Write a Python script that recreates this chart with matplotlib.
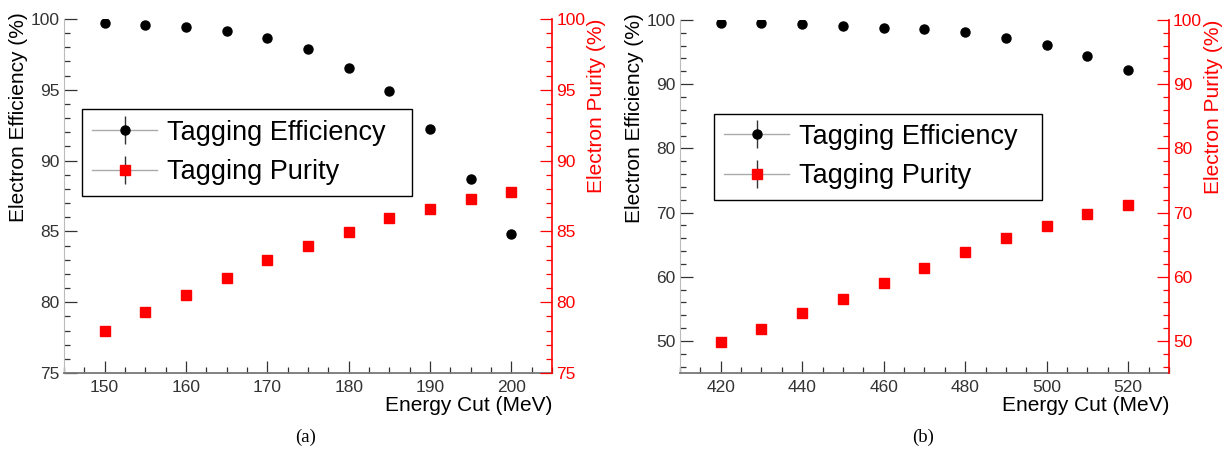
import matplotlib
matplotlib.use("Agg")
import matplotlib.pyplot as plt
from matplotlib.lines import Line2D
from matplotlib.ticker import MultipleLocator

plt.rcParams['font.family'] = ['Liberation Sans', 'DejaVu Sans']

# ---- data: panel (a) ----
cut_a = [150, 155, 160, 165, 170, 175, 180, 185, 190, 195, 200]
eff_a = [99.7, 99.6, 99.45, 99.15, 98.65, 97.85, 96.55, 94.9, 92.2, 88.7, 84.85]
pur_a = [77.95, 79.3, 80.5, 81.7, 82.95, 84.0, 84.95, 85.95, 86.6, 87.3, 87.75]

# ---- data: panel (b) ----
cut_b = [420, 430, 440, 450, 460, 470, 480, 490, 500, 510, 520]
eff_b = [99.5, 99.5, 99.4, 99.1, 98.8, 98.6, 98.1, 97.2, 96.1, 94.4, 92.2]
pur_b = [49.8, 51.9, 54.3, 56.6, 59.0, 61.3, 63.8, 66.0, 67.9, 69.7, 71.2]

legend_labels = ["Tagging Efficiency", "Tagging Purity"]
xlabel = "Energy Cut (MeV)"
ylabel_l = "Electron Efficiency (%)"
ylabel_r = "Electron Purity (%)"

fig = plt.figure(figsize=(12.31, 4.5), dpi=100)

panels = [
    dict(rect=[0.052, 0.1711, 0.3964, 0.7867], x=cut_a, eff=eff_a, pur=pur_a,
         xlim=(145, 205), ylim=(75, 100), xmaj=10, xmin=2.5, ymaj=5, ymin=1,
         leg=(0.037, 0.497, 0.676, 0.252), cap="(a)", capx=0.248),
    dict(rect=[0.5524, 0.1711, 0.3972, 0.7845], x=cut_b, eff=eff_b, pur=pur_b,
         xlim=(410, 530), ylim=(45, 100), xmaj=20, xmin=5, ymaj=10, ymin=2,
         leg=(0.0695, 0.487, 0.671, 0.252), cap="(b)", capx=0.750),
]

for p in panels:
    ax = fig.add_axes(p['rect'])
    ax.plot(p['x'], p['eff'], 'o', color='black', ms=6.5, zorder=3)
    ax.plot(p['x'], p['pur'], 's', color='red', ms=7, zorder=3)
    ax.set_xlim(*p['xlim'])
    ax.set_ylim(*p['ylim'])
    ax.xaxis.set_major_locator(MultipleLocator(p['xmaj']))
    ax.xaxis.set_minor_locator(MultipleLocator(p['xmin']))
    ax.yaxis.set_major_locator(MultipleLocator(p['ymaj']))
    ax.yaxis.set_minor_locator(MultipleLocator(p['ymin']))
    ax.tick_params(axis='both', which='both', direction='in', colors='#333',
                   labelsize=12.5, pad=3)
    ax.tick_params(axis='both', which='major', length=9, width=0.9)
    ax.tick_params(axis='both', which='minor', length=4.5, width=0.9)
    ax.tick_params(axis='x', pad=5)
    ax.spines['top'].set_visible(False)
    ax.spines['right'].set_visible(False)
    ax.spines['left'].set_color('#bbbbbb')
    ax.spines['bottom'].set_color('#777777')
    ax.spines['bottom'].set_linewidth(1.3)
    ax.set_xlabel(xlabel, loc='right', fontsize=15, labelpad=1)
    ax.set_ylabel(ylabel_l, loc='top', fontsize=15, labelpad=6)
    ax.yaxis.set_label_coords(-0.074, 1.02)

    ax2 = ax.twinx()
    ax2.set_ylim(*p['ylim'])
    ax2.yaxis.set_major_locator(MultipleLocator(p['ymaj']))
    ax2.yaxis.set_minor_locator(MultipleLocator(p['ymin']))
    ax2.tick_params(axis='y', which='both', direction='in', colors='red',
                    labelsize=12.5, pad=3)
    ax2.tick_params(axis='y', which='major', length=9, width=0.9)
    ax2.tick_params(axis='y', which='minor', length=4.5, width=0.9)
    for s in ['top', 'left', 'bottom']:
        ax2.spines[s].set_visible(False)
    ax2.spines['right'].set_color('red')
    ax2.spines['right'].set_linewidth(1.2)
    ax2.set_ylabel(ylabel_r, loc='top', fontsize=15, color='red')
    ax2.yaxis.set_label_coords(1.072, 1.0)

    # legend with error-bar style handles
    h1 = (Line2D([], [], color='#aaaaaa', lw=1),
          Line2D([], [], color='#333', marker='|', ms=20, mew=1, ls='none'),
          Line2D([], [], color='black', marker='o', ms=6.5, ls='none'))
    h2 = (Line2D([], [], color='#aaaaaa', lw=1),
          Line2D([], [], color='#333', marker='|', ms=20, mew=1, ls='none'),
          Line2D([], [], color='red', marker='s', ms=7, ls='none'))
    leg = ax.legend([h1, h2], legend_labels, loc='center', bbox_to_anchor=p['leg'],
                    mode='expand', fontsize=19.5, frameon=True, fancybox=False,
                    edgecolor='black', framealpha=1, handlelength=2.4,
                    handletextpad=0.35, labelspacing=0.5, borderpad=0.38,
                    borderaxespad=0)
    leg.get_frame().set_linewidth(1.0)
    leg.set_zorder(2)

    fig.text(p['capx'], 1 - 437 / 450, p['cap'], ha='center', va='center',
             fontsize=13.5, family=['Liberation Serif', 'DejaVu Serif'])

fig.savefig("out.png", dpi=100)
